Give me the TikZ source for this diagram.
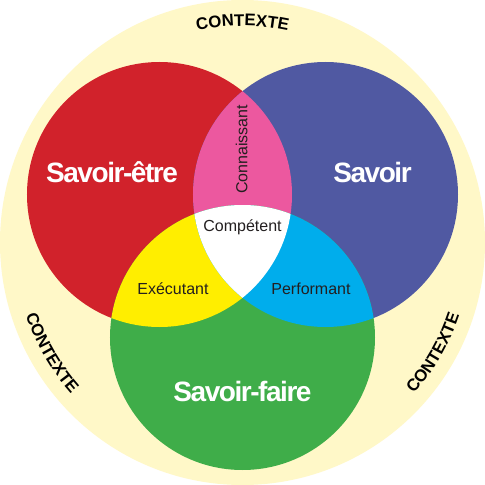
\documentclass[tikz,border=0pt]{standalone}
\usepackage{fontspec}
\setmainfont{Liberation Sans}
\setsansfont{Liberation Sans}
\newfontfamily\titlefont[LetterSpace=-5.2]{Liberation Sans}
\usetikzlibrary{decorations.text}
\definecolor{bgyellow}{RGB}{255,248,200}
\definecolor{cred}{RGB}{209,34,43}
\definecolor{cblue}{RGB}{80,89,162}
\definecolor{cgreen}{RGB}{63,173,73}
\definecolor{cpink}{RGB}{236,88,159}
\definecolor{cyellow}{RGB}{255,238,0}
\definecolor{ccyan}{RGB}{0,173,236}
\definecolor{ctext}{RGB}{35,31,32}
\newcommand\ctxfont{\bfseries\fontsize{16.8}{18}\selectfont}
\tikzset{
  bigl/.style={text=white, font=\titlefont\bfseries\fontsize{28}{30}\selectfont, inner sep=0pt, anchor=base},
  smalll/.style={text=ctext, font=\fontsize{16}{18}\selectfont, inner sep=0pt, anchor=base},
  ctx/.style={decorate, decoration={text along path, text={|\ctxfont|CONTEXTE}, text align=center}}
}
\begin{document}
\begin{tikzpicture}[x=1pt,y=1pt]
\useasboundingbox (-242.5,-242.5) rectangle (242.5,242.5);
\fill[white] (-242.5,-242.5) rectangle (242.5,242.5);
\fill[bgyellow] (0,0) circle[radius=242.5];
\def\redc{(-83,48) circle[radius=132.5]}
\def\bluec{(83,48) circle[radius=132.5]}
\def\greenc{(0,-95) circle[radius=132.5]}
\fill[cred] \redc;
\fill[cblue] \bluec;
\fill[cgreen] \greenc;
\begin{scope}\clip \redc; \fill[cpink] \bluec; \end{scope}
\begin{scope}\clip \redc; \fill[cyellow] \greenc; \end{scope}
\begin{scope}\clip \bluec; \fill[ccyan] \greenc; \end{scope}
\begin{scope}\clip \redc; \clip \bluec; \fill[white] \greenc; \end{scope}
% labels
\node[bigl] (se) at (-130.5,60) {Savoir-être};
\node[bigl] (sv) at (130,60) {Savoir};
\node[bigl] (sf) at (0,-158.5) {Savoir-faire};
\node[smalll, rotate=90] (co) at (4.8,93) {Connaissant};
\node[smalll] (cp) at (0,11.2) {Compétent};
\node[smalll] (ex) at (-69.5,-52) {Exécutant};
\node[smalll] (pf) at (68.5,-52) {Performant};
% context texts
\path[ctx] (150:216.5) arc[start angle=150, end angle=30, radius=216.5];
\path[ctx] (170:228.6) arc[start angle=170, end angle=250, radius=228.6];
\path[ctx] (290:228.6) arc[start angle=290, end angle=370, radius=228.6];
\end{tikzpicture}
\end{document}
